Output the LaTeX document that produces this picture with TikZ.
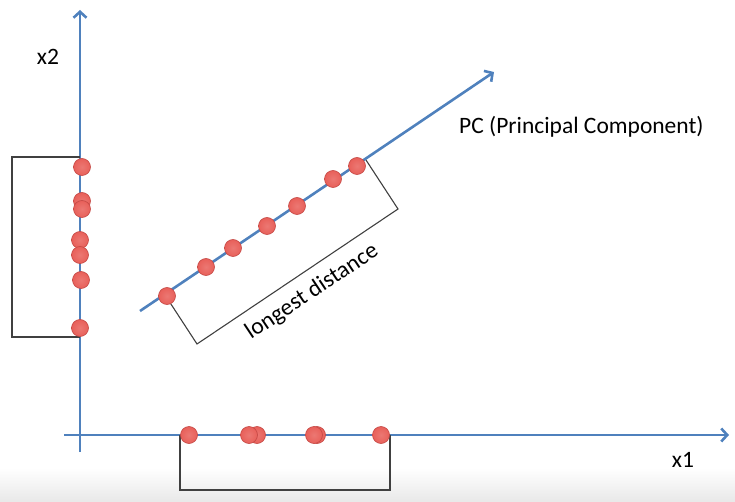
\documentclass[tikz,border=0pt]{standalone}
\usepackage{fontspec}
\setmainfont{Carlito}
\usetikzlibrary{arrows.meta}
\definecolor{axisblue}{RGB}{79,129,189}
\definecolor{dotred}{RGB}{232,96,90}
\definecolor{dotrim}{RGB}{196,72,68}
\begin{document}
\begin{tikzpicture}[x=1pt,y=-1pt]
    \useasboundingbox (0,0) rectangle (735,502);
    \shade[top color=white, bottom color=black!9] (0,468) rectangle (735,502);
    \begin{scope}
        \tikzstyle{every node}=[text=black, inner sep=1pt, font=\fontsize{23.5}{27}\selectfont]
        \node (x2) at (48,57) {x2};
        \node (x1) at (683,460) {x1};
        \node[anchor=west] (pc) at (458,127) {PC (Principal Component)};
        \node[rotate=33.7] (dist) at (312,292) {longest distance};
    \end{scope}
    \begin{scope}
        \tikzstyle{every path}=[draw=axisblue, line width=2.6pt, -{Straight Barb[length=6pt,width=13pt,line width=2.6pt]}]
        \coordinate (v0) at (80,452);
        \coordinate (v1) at (80,10);
        \coordinate (h0) at (64,435);
        \coordinate (h1) at (729,435);
        \coordinate (p0) at (140,311);
        \coordinate (p1) at (494,72);
        \path (v0) -- (v1);
        \path (h0) -- (h1);
        \path (p0) -- (p1);
    \end{scope}
    \begin{scope}
        \tikzstyle{every path}=[draw=black!75, line width=1.1pt]
        \coordinate (l0) at (80,157);
        \coordinate (l1) at (12,157);
        \coordinate (l2) at (12,337);
        \coordinate (l3) at (80,337);
        \coordinate (b0) at (180,435);
        \coordinate (b1) at (180,490);
        \coordinate (b2) at (390,490);
        \coordinate (b3) at (390,435);
        \coordinate (c0) at (167,298);
        \coordinate (c1) at (197,344);
        \coordinate (c2) at (398,209);
        \coordinate (c3) at (366,160);
        \path (l0) -- (l1) -- (l2) -- (l3);
        \path (b0) -- (b1) -- (b2) -- (b3);
        \path (c0) -- (c1) -- (c2) -- (c3);
    \end{scope}
    \begin{scope}
        \tikzstyle{every node}=[circle, minimum size=17pt, inner sep=0pt, line width=0.6pt, draw=dotrim, inner color=dotred!85!white, outer color=dotred]
        % projection on x2
        \node (y1) at (82,167) {};
        \node (y2) at (82,201) {};
        \node (y3) at (82,209) {};
        \node (y4) at (80,240) {};
        \node (y5) at (80,255) {};
        \node (y6) at (81,280) {};
        \node (y7) at (80,328) {};
        % projection on x1
        \node (u1) at (189,435) {};
        \node (u2) at (257,435) {};
        \node (u3) at (249,435) {};
        \node (u4) at (317,435) {};
        \node (u5) at (314,435) {};
        \node (u6) at (381,435) {};
        % projection on PC
        \node (q1) at (167,296) {};
        \node (q2) at (206,267) {};
        \node (q3) at (233,248) {};
        \node (q4) at (267,226) {};
        \node (q5) at (297,206) {};
        \node (q6) at (333,179) {};
        \node (q7) at (357,166) {};
    \end{scope}
\end{tikzpicture}
\end{document}
